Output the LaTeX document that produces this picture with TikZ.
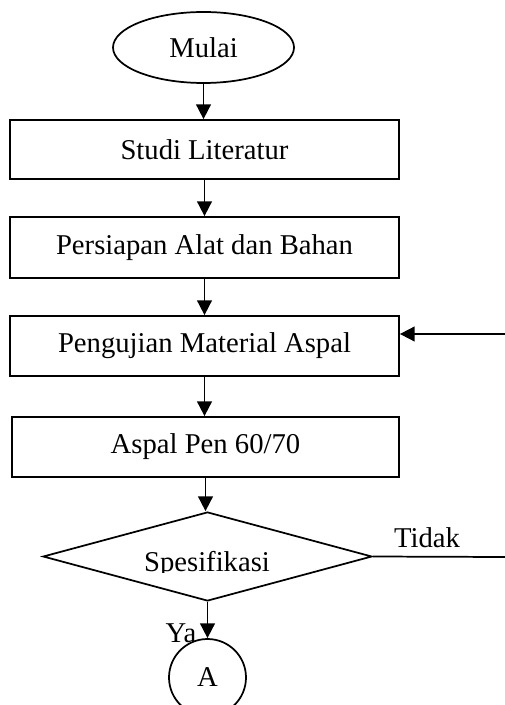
\documentclass[tikz,border=0pt]{standalone}
\usepackage{fontspec}
\setmainfont{Liberation Serif}
\usetikzlibrary{shapes.geometric,arrows.meta}
\begin{document}
\begin{tikzpicture}[x=0.75pt,y=-0.75pt,line width=1.3pt,
    font=\fontsize{21.5}{25}\selectfont,
    proses/.style={draw,rectangle,inner sep=0pt},
    panah/.style={-{Triangle[length=11pt,width=11pt]}}]
  \useasboundingbox (0,0) rectangle (505,705);
  \clip (0,0) rectangle (505,705);
  % simbol
  \node[draw,ellipse,inner sep=0pt,minimum width=135.75pt,minimum height=53.25pt] (mulai) at (203.5,47.5) {Mulai};
  \node[proses,minimum width=291.75pt,minimum height=44.25pt] (studi) at (204.5,149.5) {Studi Literatur};
  \node[proses,minimum width=291.75pt,minimum height=45.75pt] (persiapan) at (204.5,247.5) {Persiapan Alat dan Bahan};
  \node[proses,minimum width=291.75pt,minimum height=45pt] (pengujian) at (204.5,346) {Pengujian Material Aspal};
  \node[proses,minimum width=290.25pt,minimum height=45pt] (aspal) at (205.5,447) {Aspal Pen 60/70};
  \node[draw,diamond,inner sep=0pt,minimum width=246.75pt,minimum height=66.75pt] (spek) at (207.5,556.5) {};
  \begin{scope}
    \clip (40,500) rectangle (380,572);
    \node[anchor=base] (spektxt) at (207,571) {Spesifikasi};
  \end{scope}
  \node[draw,circle,inner sep=0pt,minimum size=57.75pt] (A) at (207.5,677.5) {A};
  % panah
  \foreach \a/\b in {mulai/studi,studi/persiapan,persiapan/pengujian,pengujian/aspal,aspal/spek,spek/A}
    \draw[panah] (\a.south) -- (\a.south |- \b.north);
  \coordinate (balik) at (505,334);
  \draw[panah] (balik) -- (balik -| pengujian.east);
  \coordinate (tidakujung) at (505,557);
  \draw (spek.east) -- (tidakujung);
  \node (tidak) at (427,538) {Tidak};
  \node (ya) at (181,633) {Ya};
\end{tikzpicture}
\end{document}
